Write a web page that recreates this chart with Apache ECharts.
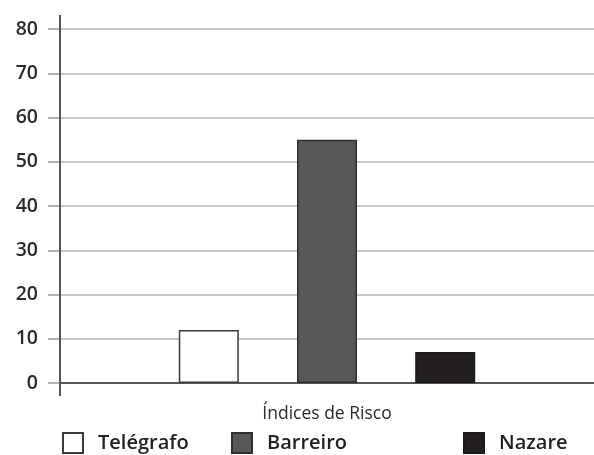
<!DOCTYPE html>
<html><head><meta charset="utf-8">
<script src="https://cdn.jsdelivr.net/npm/echarts@6/dist/echarts.min.js"></script>
<style>html,body{margin:0;padding:0;background:#fff}#c{width:594px;height:455px}</style>
</head><body><div id="c"></div>
<script>
const categories = ['Índices de Risco'];
const seriesNames = ['Telégrafo', 'Barreiro', 'Nazare'];
const telegrafo = [12];
const barreiro = [55];
const nazare = [7];
const yTicks = [0, 10, 20, 30, 40, 50, 60, 70, 80];

const chart = echarts.init(document.getElementById('c'));
const font = '"Open Sans", sans-serif';
const styles = [
  {color: '#ffffff', borderColor: '#3a3a3a', borderWidth: 1.5},
  {color: '#58585a', borderColor: '#2e2e2e', borderWidth: 1.5},
  {color: '#231f20', borderColor: '#1a1a1a', borderWidth: 1.5}
];
const vals = [telegrafo, barreiro, nazare];
const legendPos = [62, 231, 463];
chart.setOption({
  animation: false,
  backgroundColor: '#fff',
  grid: {left: 60, right: 0, top: 29, bottom: 72},
  xAxis: {
    type: 'category', data: categories,
    axisLine: {show: true, lineStyle: {color: '#555', width: 2}},
    axisTick: {show: false},
    axisLabel: {color: '#2a2a2a', fontFamily: font, fontSize: 17.5, margin: 22}
  },
  yAxis: {
    type: 'value', min: yTicks[0], max: yTicks[yTicks.length - 1], interval: 10,
    axisLine: {show: false},
    axisTick: {show: true, length: 12, lineStyle: {color: '#999', width: 1.5}},
    splitLine: {lineStyle: {color: '#b4b4b4', width: 1.5}},
    axisLabel: {color: '#2a2a2a', fontFamily: font, fontSize: 19.5, fontWeight: 600, margin: 22}
  },
  legend: seriesNames.map((n, i) => ({
    data: [{name: n, icon: 'rect'}], left: legendPos[i], top: 432, padding: 0,
    itemWidth: 20, itemHeight: 20,
    textStyle: {fontFamily: font, fontSize: 20, fontWeight: 600, color: '#222', padding: [0, 0, 0, 10]}
  })),
  series: seriesNames.map((n, i) => ({
    name: n, type: 'bar', data: vals[i], barWidth: 60, barGap: '97%',
    itemStyle: styles[i]
  })),
  graphic: [{type: 'line', shape: {x1: 60, y1: 15, x2: 60, y2: 396}, style: {stroke: '#555', lineWidth: 2}, z: 10}]
});
</script></body></html>
